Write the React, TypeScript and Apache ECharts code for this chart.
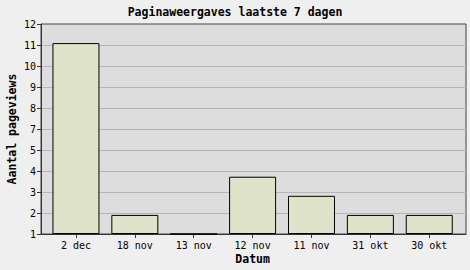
import React, { useEffect, useRef } from "react";
import * as echarts from "echarts";

const title = "Paginaweergaves laatste 7 dagen";
const categories = ["2 dec", "18 nov", "13 nov", "12 nov", "11 nov", "31 okt", "30 okt"];
const pageviews = [11, 2, 1, 4, 3, 2, 2];
// The y scale runs from 1 to 12 in 10 steps of 1.1; labels are rounded (so "6" never appears).
const yMin = 1;
const yMax = 12;
const ySteps = 10;
const xName = "Datum";
const yName = "Aantal pageviews";

const FONT = "'DejaVu Sans Mono', monospace";
const SCALE = 10; // integer-friendly internal scale

export default function App() {
  const ref = useRef<HTMLDivElement>(null);
  useEffect(() => {
    if (!ref.current) return;
    const chart = echarts.init(ref.current, undefined, { renderer: "svg" });
    const axMax = (yMax - yMin) * SCALE;
    const axInterval = axMax / ySteps;
    const fmtY = (v: number) => String(Math.round(v / SCALE + yMin));
    chart.setOption({
      animation: false,
      backgroundColor: "#efefef",
      title: {
        text: title,
        left: "center",
        top: 6,
        padding: 0,
        textStyle: { fontFamily: FONT, fontWeight: "bold", fontSize: 11.5, color: "#000" },
      },
      grid: [
        {
          left: 41,
          right: 4,
          top: 24,
          bottom: 36,
          show: true,
          backgroundColor: "#dddddd",
          borderColor: "#444",
          borderWidth: 1,
          containLabel: false,
          outerBoundsMode: "none",
        },
        {
          left: 46.5,
          right: 11.3,
          top: 24,
          bottom: 36,
          containLabel: false,
          outerBoundsMode: "none",
        },
      ],
      xAxis: [
        {
          gridIndex: 0,
          type: "value",
          min: 0,
          max: 1,
          axisLine: { show: true, lineStyle: { color: "#333", width: 1 } },
          axisTick: { show: false },
          axisLabel: { show: false },
          splitLine: { show: false },
        },
        {
          gridIndex: 1,
          type: "category",
          data: categories,
          boundaryGap: true,
          name: xName,
          nameLocation: "middle",
          nameGap: 18.5,
          nameMoveOverlap: false,
          nameTextStyle: { fontFamily: FONT, fontWeight: "bold", fontSize: 11.5, color: "#000" },
          axisLine: { show: false },
          axisTick: { show: true, alignWithLabel: true, length: 4, lineStyle: { color: "#333" } },
          axisLabel: { fontFamily: FONT, fontSize: 10, color: "#000", margin: 6, interval: 0 },
          splitLine: { show: false },
        },
      ],
      yAxis: [
        {
          gridIndex: 0,
          type: "value",
          min: 0,
          max: axMax,
          interval: axInterval,
          name: yName,
          nameLocation: "middle",
          nameGap: 23,
          nameMoveOverlap: false,
          nameRotate: 90,
          nameTextStyle: { fontFamily: FONT, fontWeight: "bold", fontSize: 11.5, color: "#000" },
          axisLine: { show: true, lineStyle: { color: "#333", width: 1 } },
          axisTick: { show: true, length: 4, lineStyle: { color: "#333" } },
          axisLabel: { fontFamily: FONT, fontSize: 10, color: "#000", margin: 5, formatter: fmtY },
          splitLine: {
            show: true,
            showMinLine: false,
            showMaxLine: false,
            lineStyle: { color: "#b6b6b6", width: 1 },
          },
        },
        {
          gridIndex: 1,
          type: "value",
          min: 0,
          max: axMax,
          show: false,
          splitLine: { show: false },
        },
      ],
      series: [
        {
          type: "bar",
          xAxisIndex: 1,
          yAxisIndex: 1,
          data: pageviews.map((v) => (v - yMin) * SCALE),
          barWidth: 47,
          itemStyle: { color: "#dfe3c9", borderColor: "#000", borderWidth: 1 },
        },
      ],
    });
    return () => chart.dispose();
  }, []);
  return (
    <div
      ref={ref}
      style={{ position: "fixed", left: 0, top: 0, width: 470, height: 270 }}
    />
  );
}
